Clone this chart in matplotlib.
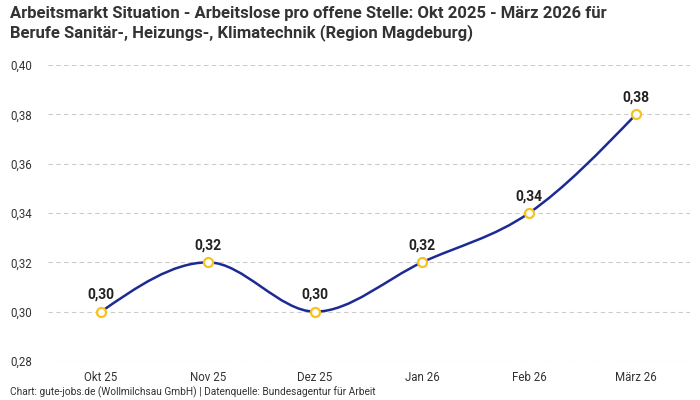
import matplotlib.pyplot as plt
import numpy as np
from matplotlib.path import Path
from matplotlib.patches import PathPatch

months = ['Okt 25', 'Nov 25', 'Dez 25', 'Jan 26', 'Feb 26', 'März 26']
values = [0.30, 0.32, 0.30, 0.32, 0.34, 0.38]
yticks = [0.28, 0.30, 0.32, 0.34, 0.36, 0.38, 0.40]

title = ('Arbeitsmarkt Situation - Arbeitslose pro offene Stelle: Okt 2025 - März 2026 für\n'
         'Berufe Sanitär-, Heizungs-, Klimatechnik (Region Magdeburg)')
source = 'Chart: gute-jobs.de (Wollmilchsau GmbH) | Datenquelle: Bundesagentur für Arbeit'

plt.rcParams['font.family'] = ['Roboto', 'DejaVu Sans']

def fmt(v):
	return f'{v:.2f}'.replace('.', ',')

def monotone_path(x, y):
	# monotone cubic (like d3 curveMonotoneX) as bezier segments
	x = np.asarray(x, float)
	y = np.asarray(y, float)
	n = len(x)
	h = np.diff(x)
	s = np.diff(y) / h
	t = np.zeros(n)
	for i in range(1, n - 1):
		if s[i - 1] * s[i] <= 0:
			t[i] = 0
		else:
			p = (s[i - 1] * h[i] + s[i] * h[i - 1]) / (h[i - 1] + h[i])
			t[i] = np.sign(s[i - 1]) * min(abs(s[i - 1]), abs(s[i]), 0.5 * abs(p)) * 2
	t[0] = (3 * s[0] - t[1]) / 2
	t[-1] = (3 * s[-1] - t[-2]) / 2
	verts = [(x[0], y[0])]
	codes = [Path.MOVETO]
	for i in range(n - 1):
		d = h[i] / 3
		verts += [(x[i] + d, y[i] + d * t[i]), (x[i + 1] - d, y[i + 1] - d * t[i + 1]), (x[i + 1], y[i + 1])]
		codes += [Path.CURVE4] * 3
	return Path(verts, codes)

fig = plt.figure(figsize=(7, 4), dpi=100)
ax = fig.add_axes([0.068, 0.0975, 0.917, 0.74])

xs = np.arange(len(months))
ax.add_patch(PathPatch(monotone_path(xs, values), facecolor='none', edgecolor='#1c2a94', lw=1.8, zorder=3))
ax.plot(xs, values, linestyle='none', marker='o', markersize=6.5, markerfacecolor='white',
	markeredgecolor='#f7c21b', markeredgewidth=1.6, zorder=4)

for xi, v in zip(xs, values):
	ax.annotate(fmt(v), (xi, v), xytext=(0, 7), textcoords='offset points', ha='center', va='bottom',
		fontsize=10, fontweight='bold', color='#222222', zorder=5)

ax.set_xlim(-0.5, len(months) - 0.5)
ax.set_ylim(0.28, 0.40)
ax.set_yticks(yticks)
ax.set_yticklabels([fmt(v) for v in yticks])
ax.set_xticks(xs)
ax.set_xticklabels(months)
ax.tick_params(axis='both', length=0, labelsize=8.3, colors='#333333')
ax.tick_params(axis='y', pad=11)
ax.tick_params(axis='x', pad=7)
ax.grid(axis='y', color='#cccccc', linestyle=(0, (4, 3)), lw=0.8)
for sp in ax.spines.values():
	sp.set_visible(False)

fig.text(0.014, 0.985, title, ha='left', va='top', fontsize=12, fontweight='bold', color='#333333', linespacing=1.2)
fig.text(0.014, 0.004, source, ha='left', va='bottom', fontsize=7.3, color='#333333')

fig.savefig('out.png', dpi=100)
